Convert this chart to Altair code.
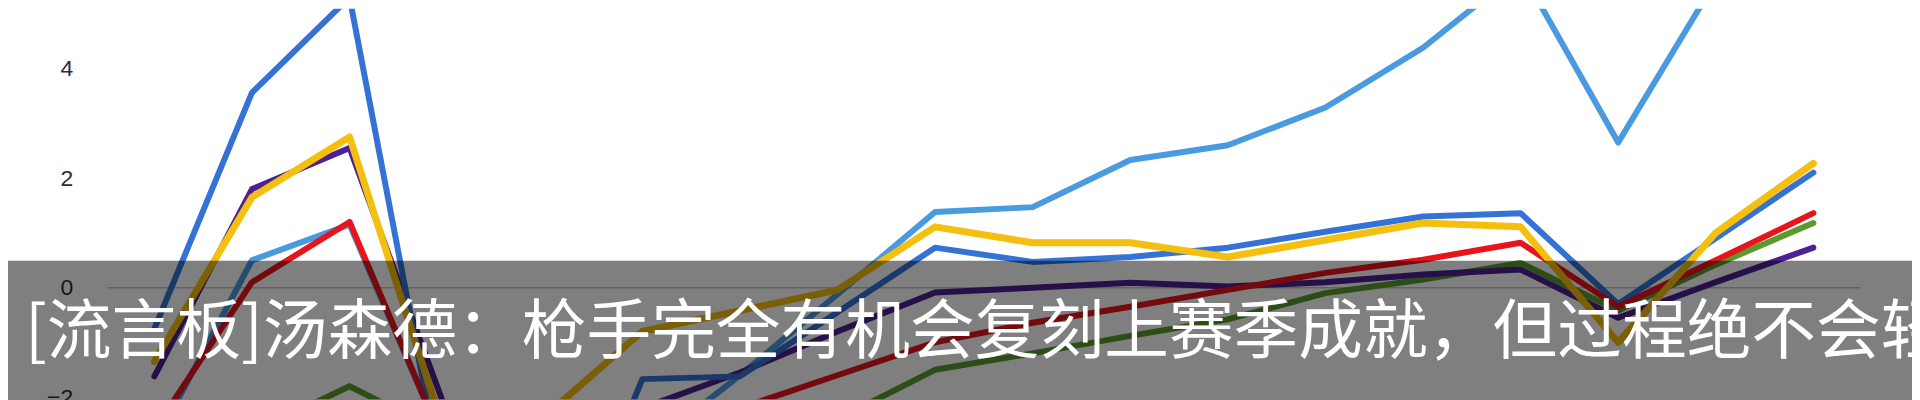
import altair as alt
import pandas as pd

# ---- data ----
rounds = list(range(18))
light_blue = [-2.85, 0.5, 1.15, -3.0, -3.4, -3.0, -1.6, -0.12, 1.38, 1.47, 2.33, 2.6, 3.29, 4.38, 5.8, 2.65, 5.6, 6.5]
dark_blue = [-0.75, 3.56, 5.3, -4.0, -6.0, -1.67, -1.62, -0.45, 0.73, 0.47, 0.56, 0.73, 1.02, 1.3, 1.36, -0.3, 0.9, 2.1]
yellow = [-1.35, 1.65, 2.75, -2.8, -2.35, -0.8, -0.42, -0.04, 1.11, 0.82, 0.82, 0.56, 0.87, 1.18, 1.11, -1.0, 1.0, 2.27]
red = [-2.6, 0.1, 1.2, -3.0, -3.0, -2.8, -2.2, -1.6, -1.0, -0.64, -0.35, -0.04, 0.27, 0.51, 0.82, -0.35, 0.5, 1.36]
purple = [-1.62, 1.8, 2.55, -2.3, -2.6, -2.2, -1.55, -0.8, -0.09, 0.0, 0.09, 0.02, 0.1, 0.24, 0.33, -0.55, 0.1, 0.73]
green = [-3.5, -2.65, -1.8, -2.7, -3.2, -3.4, -3.2, -2.4, -1.5, -1.2, -0.88, -0.58, -0.1, 0.15, 0.45, -0.42, 0.42, 1.18]

series_names = ["light_blue", "green", "purple", "dark_blue", "red", "yellow"]
series_values = [light_blue, green, purple, dark_blue, red, yellow]
series_colors = ["#4a9ae0", "#5a9a2c", "#4e2192", "#3572d6", "#e8141b", "#f5bf0f"]
series_widths = [6, 6, 6, 6, 6, 7]

y_ticks = [-2, 0, 2, 4]
caption = "[流言板]汤森德：枪手完全有机会复刻上赛季成就，但过程绝不会轻"

rows = []
for name, vals in zip(series_names, series_values):
    for r, v in zip(rounds, vals):
        rows.append({"series": name, "round": r, "value": v})
df = pd.DataFrame(rows)

W, H = 1760, 392
x_scale = alt.Scale(domain=[-0.4796, 17.480], nice=False, zero=False)
y_scale = alt.Scale(domain=[-2.03636, 5.09091], nice=False, zero=False)

y_axis = alt.Axis(values=y_ticks, grid=False, domain=False, ticks=False,
                  labelPadding=35, labelFontSize=23, labelColor="#2e2a3a",
                  labelFont="Liberation Sans", title=None)

zero_rule = alt.Chart(pd.DataFrame({"v": [0]})).mark_rule(
    color="#c4c4c4", strokeWidth=1.5
).encode(y=alt.Y("v:Q", scale=y_scale, axis=y_axis), x=alt.value(0), x2=alt.value(W))

layers = [zero_rule]
for name, col, sw in zip(series_names, series_colors, series_widths):
    layers.append(
        alt.Chart(df).transform_filter(alt.datum.series == name).mark_line(
            color=col, strokeWidth=sw, clip=True, strokeCap="round", strokeJoin="round"
        ).encode(
            x=alt.X("round:Q", scale=x_scale, axis=None),
            y=alt.Y("value:Q", scale=y_scale, axis=y_axis),
        )
    )

band = alt.Chart(pd.DataFrame({"k": [0]})).mark_rect(color="black", opacity=0.5).encode(
    x=alt.value(-110), x2=alt.value(1840), y=alt.value(253), y2=alt.value(400)
)
text = alt.Chart(pd.DataFrame({"t": [caption]})).mark_text(
    align="left", baseline="middle", fontSize=65, font="Noto Sans CJK SC", color="white"
).encode(x=alt.value(-83), y=alt.value(326), text="t:N")

layers += [band, text]

chart = alt.layer(*layers).properties(
    width=W, height=H,
    autosize=alt.AutoSizeParams(type="none"),
    padding={"left": 100, "top": 0, "right": 52, "bottom": 0},
    background="white",
).configure_view(stroke=None)

chart.save("out.html", embed_options={"renderer": "svg", "actions": False})
